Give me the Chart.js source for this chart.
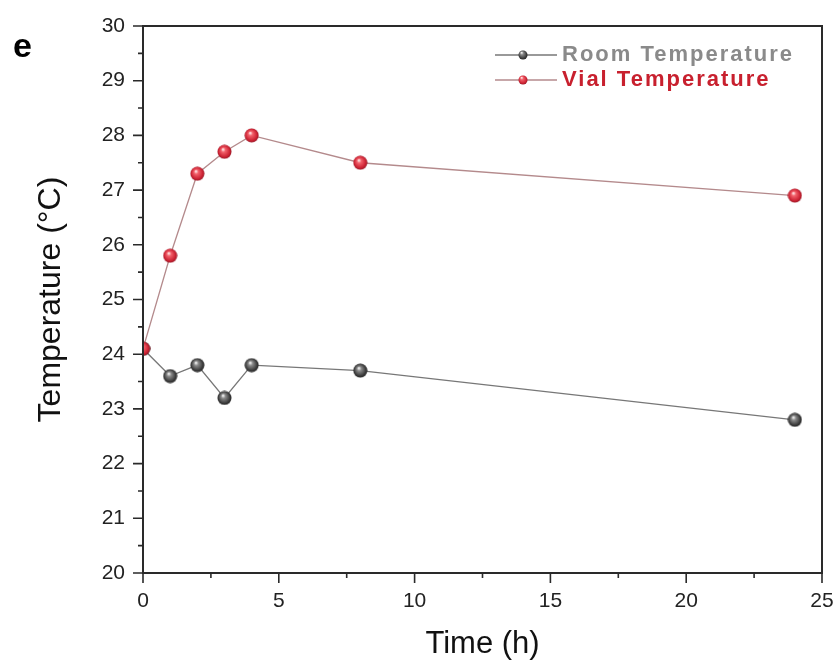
<!DOCTYPE html>
<html>
<head>
<meta charset="utf-8">
<script src="https://cdn.jsdelivr.net/npm/chart.js@4.4.1/dist/chart.umd.min.js"></script>
<style>
  html, body { margin: 0; padding: 0; background: #fff; }
  #wrap { width: 840px; height: 662px; }
</style>
</head>
<body>
<div id="wrap"><canvas id="graph" width="840" height="662"></canvas></div>
<script>
// values
const hours = [0, 1, 2, 3, 4, 8, 24];
const roomTemp = [24.1, 23.6, 23.8, 23.2, 23.8, 23.7, 22.8];
const vialTemp = [24.1, 25.8, 27.3, 27.7, 28.0, 27.5, 26.9];
const xTicks = [0, 5, 10, 15, 20, 25];
const yTicks = [20, 21, 22, 23, 24, 25, 26, 27, 28, 29, 30];

const FONT = '"Liberation Sans", Arial, sans-serif';

// shaded ball markers
function ball(stops, size) {
  const c = document.createElement('canvas');
  c.width = size; c.height = size;
  const g = c.getContext('2d');
  const r = size / 2;
  const grad = g.createRadialGradient(r - 1.5, r - 2.5, 0.5, r, r, r);
  stops.forEach(s => grad.addColorStop(s[0], s[1]));
  g.fillStyle = grad;
  g.beginPath();
  g.arc(r, r, r - 0.5, 0, Math.PI * 2);
  g.fill();
  return c;
}
const redStops = [[0, '#ffe0e0'], [0.25, '#f2606a'], [0.75, '#cc2233'], [1, '#8c1422']];
const greyStops = [[0, '#eeeeee'], [0.25, '#8a8a8a'], [0.75, '#3c3c3c'], [1, '#1e1e1e']];
const redBall = ball(redStops, 15);
const greyBall = ball(greyStops, 15);
const legendBalls = [ball(greyStops, 10), ball(redStops, 10)];

const pts = (ys) => hours.map((h, i) => ({x: h, y: ys[i]}));

// frame, tick marks, panel letter and legend
const decor = {
  id: 'decor',
  afterDraw(chart) {
    const {ctx, chartArea: a, scales: {x, y}} = chart;
    ctx.save();
    ctx.strokeStyle = '#2a2a2a';
    ctx.lineWidth = 2;
    ctx.strokeRect(a.left, a.top, a.right - a.left, a.bottom - a.top);

    ctx.lineWidth = 1.6;
    ctx.beginPath();
    yTicks.forEach((v, i) => {
      const py = y.getPixelForValue(v);
      ctx.moveTo(a.left - 10, py); ctx.lineTo(a.left, py);
      if (i < yTicks.length - 1) {
        const my = y.getPixelForValue((v + yTicks[i + 1]) / 2);
        ctx.moveTo(a.left - 5, my); ctx.lineTo(a.left, my);
      }
    });
    xTicks.forEach((v, i) => {
      const px = x.getPixelForValue(v);
      ctx.moveTo(px, a.bottom); ctx.lineTo(px, a.bottom + 10);
      if (i < xTicks.length - 1) {
        const mx = x.getPixelForValue((v + xTicks[i + 1]) / 2);
        ctx.moveTo(mx, a.bottom); ctx.lineTo(mx, a.bottom + 5);
      }
    });
    ctx.stroke();

    ctx.fillStyle = '#000';
    ctx.font = 'bold 34px ' + FONT;
    ctx.textBaseline = 'alphabetic';
    ctx.fillText('e', 13, 57);

    // legend
    const rows = [
      {ds: chart.data.datasets[0], y: 55, color: '#8a8a8a'},
      {ds: chart.data.datasets[1], y: 80, color: '#c8202e'}
    ];
    rows.forEach((r, i) => {
      ctx.strokeStyle = r.ds.borderColor;
      ctx.lineWidth = 1.5;
      ctx.beginPath();
      ctx.moveTo(495, r.y); ctx.lineTo(557, r.y);
      ctx.stroke();
      const img = legendBalls[i];
      ctx.drawImage(img, 523 - img.width / 2, r.y - img.height / 2);
      ctx.fillStyle = r.color;
      ctx.font = 'bold 22px ' + FONT;
      ctx.textBaseline = 'middle';
      ctx.letterSpacing = '2px';
      ctx.fillText(r.ds.label, 562, r.y);
    });
    ctx.restore();
  }
};

new Chart(document.getElementById('graph'), {
  type: 'scatter',
  data: {
    datasets: [{
      label: 'Room Temperature',
      data: pts(roomTemp),
      showLine: true,
      borderColor: '#777777',
      borderWidth: 1.3,
      pointStyle: greyBall,
      order: 1
    }, {
      label: 'Vial Temperature',
      data: pts(vialTemp),
      showLine: true,
      borderColor: '#b48a8c',
      borderWidth: 1.3,
      pointStyle: redBall,
      order: 0
    }]
  },
  options: {
    responsive: false,
    animation: false,
    layout: {padding: {top: 26, right: 18, left: 0, bottom: 0}},
    plugins: {legend: {display: false}, tooltip: {enabled: false}},
    scales: {
      x: {
        type: 'linear',
        min: 0, max: 25,
        afterFit: s => { s.height = 89; s.paddingLeft = 0; s.paddingRight = 0; },
        afterBuildTicks: s => { s.ticks = xTicks.map(v => ({value: v})); },
        grid: {display: false, drawTicks: false},
        border: {display: false},
        ticks: {padding: 16, color: '#222', font: {family: FONT, size: 21}, maxRotation: 0},
        title: {display: true, text: 'Time (h)', color: '#111',
                font: {family: FONT, size: 31, lineHeight: 1}, padding: {top: 0, bottom: 2.5}}
      },
      y: {
        min: 20, max: 30,
        afterFit: s => { s.width = 143; s.paddingTop = 0; s.paddingBottom = 0; },
        afterBuildTicks: s => { s.ticks = yTicks.map(v => ({value: v})); },
        grid: {display: false, drawTicks: false},
        border: {display: false},
        ticks: {padding: 18, color: '#222', font: {family: FONT, size: 21}},
        title: {display: true, text: 'Temperature (\u00B0C)', color: '#111',
                font: {family: FONT, size: 32, lineHeight: 1}, padding: {top: 35, bottom: 0}}
      }
    }
  },
  plugins: [decor]
});
</script>
</body>
</html>
